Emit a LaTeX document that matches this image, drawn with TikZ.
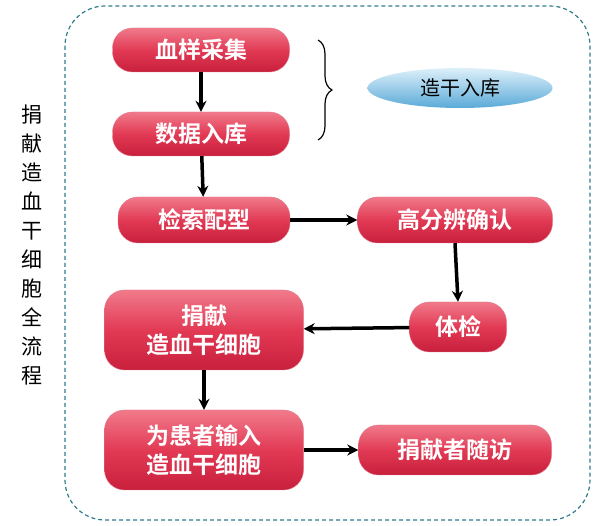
\documentclass[tikz,border=0pt]{standalone}
\usepackage{fontspec}
\setmainfont{Noto Sans CJK SC}
\newfontfamily\boldcjk{Noto Sans CJK SC Bold}
\usetikzlibrary{shapes.geometric,decorations.pathreplacing,arrows.meta}
\definecolor{rtop}{HTML}{F07A8A}
\definecolor{rmid}{HTML}{E23A55}
\definecolor{rbot}{HTML}{C8203C}
\definecolor{etop}{HTML}{DDF0FA}
\definecolor{ebot}{HTML}{5AAAD8}
\definecolor{dash}{HTML}{2E7D8C}
\begin{document}
\begin{tikzpicture}[x=1pt,y=-1pt,
 redbox/.style={rounded corners=20pt,top color=rtop,bottom color=rbot,middle color=rmid,draw=rbot!60,text=white,font=\fontsize{23}{29}\selectfont\boldcjk,align=center,inner sep=0pt},
 arr/.style={-{Stealth[length=11pt,width=11pt]},line width=3.5pt}]
\useasboundingbox (0,0) rectangle (603,526);
\draw[dash pattern=on 4pt off 3pt,draw=dash,line width=1.2pt,rounded corners=40pt] (65,6) rectangle (590,520);
\node[font=\fontsize{21}{29}\selectfont,align=center] (title) at (32,245) {捐\\献\\造\\血\\干\\细\\胞\\全\\流\\程};
\node[redbox,minimum width=177pt,minimum height=44pt] (a) at (201,50) {血样采集};
\node[redbox,minimum width=177pt,minimum height=44pt] (b) at (201,134) {数据入库};
\node[redbox,minimum width=172pt,minimum height=46pt] (c) at (204,220) {检索配型};
\node[redbox,minimum width=195pt,minimum height=46pt] (d) at (455,220) {高分辨确认};
\node[redbox,minimum width=97pt,minimum height=50pt] (e) at (458,327) {体检};
\node[redbox,minimum width=199pt,minimum height=80pt] (f) at (204,330) {捐献\\造血干细胞};
\node[redbox,minimum width=199pt,minimum height=80pt] (g) at (204,450) {为患者输入\\造血干细胞};
\node[redbox,minimum width=193pt,minimum height=50pt] (h) at (455,450) {捐献者随访};
\node[ellipse,minimum width=185pt,minimum height=40pt,inner sep=0pt,top color=etop,bottom color=ebot,font=\fontsize{20}{22}\selectfont] (k) at (460,88) {造干入库};
\draw[decorate,decoration={brace,amplitude=14pt},line width=1.2pt] (318,40) -- (318,140);
\draw[arr] (a) -- (b);
\draw[arr] (b) -- (c);
\draw[arr] (c) -- (d);
\draw[arr] (d.south) -- (e.north);
\draw[arr] (e) -- (f);
\draw[arr] (f) -- (g);
\draw[arr] (g) -- (h);
\end{tikzpicture}
\end{document}
